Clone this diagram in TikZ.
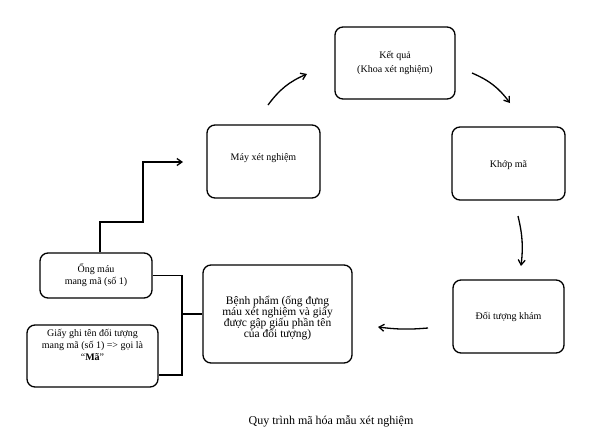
\documentclass[tikz,border=0pt]{standalone}
\usepackage{fontspec}
\setmainfont{Liberation Serif}
\usetikzlibrary{arrows.meta}

\begin{document}
\begin{tikzpicture}[x=1pt, y=-1pt, line width=1.3pt, >={Straight Barb[length=5pt,width=7pt]},
  main/.style = {draw, rounded corners=8pt, align=center, inner sep=2pt, font=\fontsize{10}{12}\selectfont}]
 			\useasboundingbox (0,0) rectangle (598,445);
 			\node[main, minimum width=120pt, minimum height=72pt, font=\fontsize{10}{14}\selectfont] (1) at (395,63) {Kết quả\\(Khoa xét nghiệm)};
 			\node[main, minimum width=113pt, minimum height=73pt] (2) at (263.5,161.5) {Máy xét nghiệm\\[-4pt]};
 			\node[main, minimum width=113pt, minimum height=73pt] (3) at (508.5,163.5) {\\[-1pt]Khớp mã};
 			\node[main, minimum width=111pt, minimum height=73pt] (4) at (508.5,316.5) {Đối tượng khám};
 			\node[main, minimum width=149pt, minimum height=98pt, font=\fontsize{11.5}{11}\selectfont] (5) at (277.5,314) {\parbox[c][60pt][c]{140pt}{\centering\vspace*{8pt}Bệnh phẩm (ống đựng\\máu xét nghiệm và giấy\\được gập giấu phần tên\\của đối tượng)}};
 			\node[main, minimum width=112pt, minimum height=45pt] (6) at (96,275.5) {Ống máu\\mang mã (số 1)};
 			\node[main, minimum width=131pt, minimum height=62pt] (7) at (92.5,356) {\parbox[c][54pt][t]{125pt}{\centering Giấy ghi tên đối tượng\\mang mã (số 1) => gọi là\\“\textbf{Mã}”}};
 			\node[font=\fontsize{12}{14}\selectfont] (8) at (331,421) {Quy trình mã hóa mẫu xét nghiệm};

 			\coordinate (a) at (268,105);
 			\coordinate (b) at (307,74);
 			\coordinate (c) at (472,73);
 			\coordinate (d) at (510,103);
 			\coordinate (e) at (518,216);
 			\coordinate (f) at (521,266);
 			\coordinate (g) at (428,328);
 			\coordinate (h) at (378,327);
 			\coordinate (j) at (182,314);
 			\coordinate (k) at (143,222);
 			\coordinate (m) at (183,162);

 			\draw[->] (a) to[bend left=15] (b);
 			\draw[->] (c) to[bend left=15] (d);
 			\draw[->] (e) to[bend left=10] (f);
 			\draw[->] (g) to[bend left=6] (h);
 			\draw (6.east) -| (j) |- ([yshift=-19pt]7.east);
 			\draw (j) -- (5.west);
 			\draw[->] ([xshift=4pt]6.north) |- (k) |- (m);
 		\end{tikzpicture}
\end{document}
